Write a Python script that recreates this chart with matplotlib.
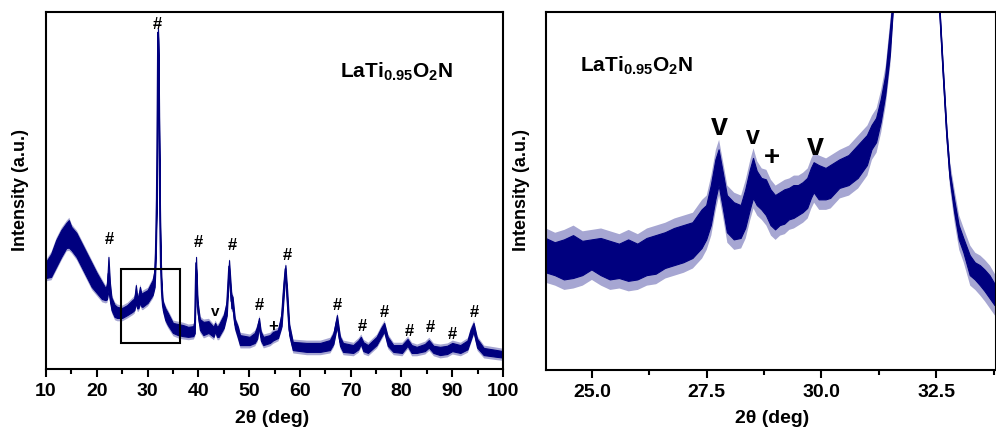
import numpy as np
import matplotlib
matplotlib.use("Agg")
import matplotlib.pyplot as plt
from matplotlib.patches import Rectangle
from matplotlib.ticker import MultipleLocator

plt.rcParams["font.family"] = ["Liberation Sans", "DejaVu Sans"]
plt.rcParams["font.weight"] = "bold"
plt.rcParams["mathtext.fontset"] = "custom"
plt.rcParams["mathtext.rm"] = "Liberation Sans:bold"
plt.rcParams["mathtext.bf"] = "Liberation Sans:bold"
plt.rcParams["mathtext.it"] = "Liberation Sans:bold"

TRACE = "#00007F"

# ---- full scan 10-100 deg: noise band (lower / upper) of the measured trace ----
full_2theta = [10.0, 11.0, 12.0, 13.0, 14.0, 14.5, 15.0, 16.0, 17.0, 18.0, 19.0, 20.0,
               21.0, 21.7, 22.0, 22.3, 22.6, 22.9, 23.5, 24.0, 25.0, 26.0, 27.0, 27.4,
               27.7, 27.95, 28.2, 28.5, 28.8, 29.0, 30.0, 31.0, 31.4, 31.6, 31.8, 31.95,
               32.05, 32.15, 32.3, 32.45, 32.6, 32.8, 33.0, 33.5, 34.0, 35.0, 36.0, 37.0,
               38.0, 39.0, 39.3, 39.55, 39.85, 40.3, 41.0, 42.0, 43.0, 43.3, 43.7, 44.0,
               45.0, 45.6, 46.05, 46.5, 46.75, 47.2, 47.8, 48.2, 50.1, 51.1, 51.6, 51.95,
               52.3, 52.8, 54.1, 54.7, 55.7, 56.4, 56.8, 57.15, 57.5, 57.9, 58.6, 61.3,
               64.0, 65.9, 66.6, 67.3, 67.9, 68.5, 70.5, 71.5, 72.0, 72.5, 73.4, 75.1,
               76.0, 76.6, 77.3, 78.4, 80.1, 81.2, 82.0, 83.0, 84.6, 85.4, 86.3, 87.6,
               89.0, 90.0, 91.6, 93.0, 93.6, 94.2, 94.9, 96.2, 98.8, 100.0]
full_low = [25.5, 25.8, 28.6, 31.4, 33.9, 34.0, 33.3, 31.4, 28.6, 25.8, 23.0, 21.3,
            19.6, 19.3, 19.5, 22.0, 19.0, 16.5, 14.6, 14.3, 14.3, 15.1, 16.0, 16.5,
            18.5, 17.0, 17.0, 18.5, 17.5, 17.4, 18.5, 20.7, 23.0, 30.0, 45.0, 70.0,
            93.0, 85.0, 62.0, 40.0, 27.0, 20.0, 16.5, 13.7, 12.3, 10.1, 9.5, 9.2,
            9.0, 9.2, 10.0, 28.0, 16.0, 11.0, 9.5, 10.1, 9.0, 10.5, 9.0, 9.0,
            11.5, 15.0, 27.0, 17.0, 17.0, 11.5, 8.7, 6.7, 6.7, 7.3, 8.5, 12.0,
            8.0, 6.7, 7.3, 8.0, 8.7, 12.0, 20.0, 27.0, 18.0, 9.5, 5.3, 4.8,
            4.8, 5.3, 7.0, 12.0, 6.5, 4.8, 4.5, 5.5, 7.0, 5.0, 4.5, 6.7,
            9.0, 10.5, 6.5, 4.8, 4.5, 6.5, 4.5, 4.5, 5.0, 6.0, 4.5, 3.9,
            4.2, 5.0, 4.5, 5.5, 8.0, 10.5, 6.0, 3.9, 3.4, 3.2]
full_high = [30.0, 32.2, 36.1, 38.9, 40.9, 41.7, 39.8, 38.1, 35.3, 32.5, 29.7, 26.9,
             24.4, 22.7, 23.5, 31.4, 24.0, 20.0, 18.0, 17.4, 17.1, 17.9, 19.3, 19.8,
             23.5, 20.5, 20.5, 23.0, 21.0, 21.3, 22.1, 24.9, 28.0, 35.0, 50.0, 75.0,
             95.5, 92.0, 68.0, 45.0, 31.0, 23.0, 19.0, 17.0, 15.7, 12.9, 12.6, 12.3,
             11.8, 12.0, 14.0, 31.4, 19.0, 14.0, 13.2, 13.4, 11.8, 12.9, 11.8, 12.3,
             15.1, 19.0, 30.5, 21.0, 20.2, 14.0, 11.8, 9.5, 9.0, 10.1, 12.0, 14.3,
             10.5, 9.0, 9.5, 10.4, 10.9, 15.7, 24.0, 29.1, 22.0, 12.5, 7.6, 7.3,
             7.3, 8.1, 10.0, 15.1, 9.0, 7.3, 6.7, 8.0, 9.0, 7.5, 6.7, 9.0,
             11.5, 12.9, 9.0, 6.7, 6.7, 8.4, 6.7, 6.2, 7.0, 8.1, 6.5, 6.2,
             6.5, 7.3, 6.7, 8.0, 11.0, 12.9, 8.5, 5.9, 5.3, 5.0]
full_spike_reach = 0.8   # how far isolated noise spikes poke out of the dense band

# ---- detail scan 24-33.8 deg ----
zoom_2theta = [24.0, 24.2, 24.4, 24.6, 24.8, 25.0, 25.2, 25.4, 25.6, 25.8, 26.0, 26.2,
               26.4, 26.6, 26.8, 27.0, 27.2, 27.4, 27.5, 27.6, 27.7, 27.77, 27.85, 27.95,
               28.1, 28.25, 28.35, 28.45, 28.52, 28.6, 28.7, 28.8, 28.9, 29.0, 29.1, 29.2,
               29.3, 29.4, 29.5, 29.6, 29.7, 29.78, 29.84, 29.95, 30.1, 30.2, 30.4, 30.6,
               30.8, 31.0, 31.1, 31.2, 31.3, 31.4, 31.5, 31.55, 31.8, 32.05, 32.3, 32.58,
               32.65, 32.73, 32.8, 32.9, 33.0, 33.1, 33.24, 33.35, 33.46, 33.56, 33.67, 33.78]
zoom_low = [14.9, 14.7, 14.4, 14.5, 14.7, 15.1, 14.7, 14.4, 14.5, 14.3, 14.4, 14.7,
            14.8, 15.2, 15.4, 15.6, 15.9, 16.6, 17.2, 18.2, 20.0, 21.0, 19.6, 17.7,
            17.2, 17.3, 18.0, 19.3, 20.1, 19.6, 19.3, 18.9, 18.2, 17.9, 18.2, 18.3,
            18.6, 18.7, 18.9, 19.1, 19.4, 20.1, 20.5, 20.0, 20.0, 20.1, 20.8, 21.0,
            21.5, 22.4, 23.5, 24.0, 25.4, 27.3, 30.1, 32.6, 45.0, 93.0, 62.0, 33.0,
            28.9, 24.5, 21.5, 19.1, 17.2, 16.3, 14.7, 14.4, 14.0, 13.6, 13.1, 12.6]
zoom_high = [17.3, 17.0, 17.2, 17.5, 17.1, 17.2, 17.3, 17.1, 16.9, 17.2, 16.9, 17.3,
             17.5, 17.7, 18.0, 18.2, 18.4, 19.3, 19.6, 21.0, 22.8, 23.5, 22.1, 20.3,
             19.8, 19.6, 20.7, 22.1, 22.9, 22.0, 21.5, 21.4, 20.7, 20.3, 20.5, 20.7,
             20.8, 21.0, 21.0, 21.2, 21.5, 22.2, 22.6, 22.4, 22.2, 22.4, 22.8, 23.1,
             23.8, 24.5, 25.2, 25.7, 27.0, 28.7, 31.9, 33.6, 50.0, 95.5, 68.0, 33.3,
             29.3, 24.9, 22.0, 20.0, 18.2, 17.3, 16.1, 15.6, 15.4, 15.1, 14.7, 14.1]
zoom_spike_reach = 0.7

# ---- phase markers ----
full_marks = ["#", "#", "#", "#", "v", "#", "+", "#", "#", "#", "#", "#", "#", "#", "#"]
full_mark_x = [32.0, 22.5, 39.9, 46.6, 43.4, 52.1, 54.7, 57.5, 67.3, 72.2, 76.6, 81.5,
               85.6, 90.1, 94.4]
full_mark_y = [96.4, 36.4, 35.3, 34.7, 16.0, 17.9, 11.8, 31.7, 17.9, 12.0, 15.7, 10.6,
               11.5, 9.8, 15.7]
zoom_marks = ["v", "v", "+", "v"]
zoom_mark_x = [27.77, 28.51, 28.92, 29.86]
zoom_mark_y = [25.1, 24.4, 22.9, 23.7]
zoom_mark_size = [22, 18, 20, 22]

# region of the full scan shown in detail (2theta range, intensity range)
box_2theta = [24.7, 36.3]
box_int = [7.2, 28.0]

compound = r"LaTi$_{0.95}$O$_{2}$N"

fig = plt.figure(figsize=(9.96, 4.36), dpi=100)
ax1 = fig.add_axes([46 / 996, 1 - 369 / 436, 457 / 996, 357 / 436])
ax2 = fig.add_axes([546 / 996, 1 - 370 / 436, 449.5 / 996, 358 / 436])


def draw_trace(ax, x, lo, hi, reach):
    x = np.asarray(x)
    lo = np.asarray(lo)
    hi = np.asarray(hi)
    # sparse spikes around the dense noise band
    ax.fill_between(x, lo - reach, hi + reach, color=TRACE, alpha=0.35, lw=0, zorder=2)
    ax.fill_between(x, lo, hi, color=TRACE, lw=0.8, zorder=2)
    ax.plot(x, (lo + hi) / 2, color=TRACE, lw=1.2, zorder=2)


draw_trace(ax1, full_2theta, full_low, full_high, full_spike_reach)
draw_trace(ax2, zoom_2theta, zoom_low, zoom_high, zoom_spike_reach)

ax1.set_xlim(10, 100)
ax1.set_ylim(0, 100)
ax2.set_xlim(24, 33.79)
ax2.set_ylim(8.1, 33.14)

ax1.xaxis.set_major_locator(MultipleLocator(10))
ax1.xaxis.set_minor_locator(MultipleLocator(5))
ax2.xaxis.set_major_locator(MultipleLocator(2.5))
ax2.xaxis.set_minor_locator(MultipleLocator(1.25))
ax2.xaxis.set_major_formatter(matplotlib.ticker.FormatStrFormatter("%.1f"))

for ax in (ax1, ax2):
    ax.set_yticks([])
    for sp in ax.spines.values():
        sp.set_linewidth(1.5)
        sp.set_color("black")
    ax.tick_params(axis="x", which="major", direction="out", length=6, width=1.5,
                   labelsize=14, pad=4)
    ax.tick_params(axis="x", which="minor", direction="out", length=3.5, width=1.5)
    for lab in ax.get_xticklabels():
        lab.set_fontweight("bold")

ax1.add_patch(Rectangle((box_2theta[0], box_int[0]), box_2theta[1] - box_2theta[0],
                        box_int[1] - box_int[0], fill=False, ec="black", lw=1.5, zorder=3))

for m, x, y in zip(full_marks, full_mark_x, full_mark_y):
    ax1.text(x, y, m, ha="center", va="center", fontsize=12 if m != "v" else 11,
             fontweight="bold", color="black", zorder=4)
for m, x, y, s in zip(zoom_marks, zoom_mark_x, zoom_mark_y, zoom_mark_size):
    ax2.text(x, y, m, ha="center", va="center", fontsize=s, fontweight="bold",
             color="black", zorder=4)

ax1.text(67.9, 83.2, compound, ha="left", va="center", fontsize=15, fontweight="bold")
ax2.text(24.74, 29.4, compound, ha="left", va="center", fontsize=15, fontweight="bold")

fig.text(21 / 996, 1 - 190 / 436, "Intensity (a.u.)", rotation=90, ha="center",
         va="center", fontsize=13, fontweight="bold")
fig.text(521 / 996, 1 - 190 / 436, "Intensity (a.u.)", rotation=90, ha="center",
         va="center", fontsize=13, fontweight="bold")
fig.text(272 / 996, 1 - 418 / 436, "2θ (deg)", ha="center", va="center",
         fontsize=14, fontweight="bold")
fig.text(772 / 996, 1 - 418 / 436, "2θ (deg)", ha="center", va="center",
         fontsize=14, fontweight="bold")

fig.savefig("out.png", dpi=100)
